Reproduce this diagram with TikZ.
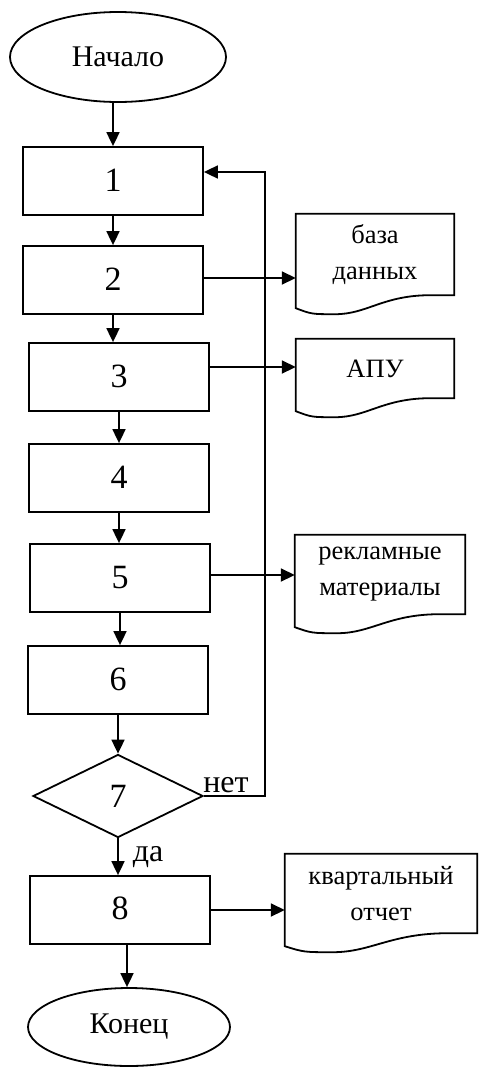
\documentclass[tikz,border=0pt]{standalone}
\usepackage{fontspec}
\setmainfont{Liberation Serif}
\usetikzlibrary{arrows.meta,shapes.geometric,calc}
\newcommand{\docdraw}[1]{%
\draw[line] let \p1=(#1.south west), \p2=(#1.north east), \n1={\x2-\x1} in
 (\x1,\y1-13pt) -- (\x1,\y2) -- (\x2,\y2) -- (\x2,\y1) -- (\x2-0.15*\n1*1pt,\y1)
 .. controls (\x1+0.55*\n1*1pt,\y1) and (\x1+0.45*\n1*1pt,\y1-19pt) .. (\x1+0.25*\n1*1pt,\y1-19pt)
 .. controls (\x1+0.1*\n1*1pt,\y1-19pt) .. (\x1,\y1-13pt) -- cycle;}
\begin{document}
\begin{tikzpicture}[x=1pt,y=-1pt,
 line/.style={line width=1.8pt},
 arr/.style={line width=1.8pt,-{Triangle[length=14pt,width=13pt]}},
 box/.style={draw,line width=1.8pt,minimum width=180pt,minimum height=68pt,inner sep=0pt,font=\fontsize{34}{38}\selectfont},
 term/.style={draw,ellipse,line width=1.8pt,inner sep=0pt,font=\fontsize{30}{34}\selectfont},
 doc/.style={inner sep=0pt,align=center,font=\fontsize{26.5}{36}\selectfont},
 lbl/.style={inner sep=0pt,font=\fontsize{32}{36}\selectfont}]
\useasboundingbox (0,0) rectangle (479,1068);
\node[term,minimum width=216pt,minimum height=90pt] (start) at (118,57) {Начало};
\node[box] (b1) at (113,181) {\raisebox{2pt}{1}};
\node[box] (b2) at (113,280) {\raisebox{2pt}{2}};
\node[box] (b3) at (119,377) {\raisebox{2pt}{3}};
\node[box] (b4) at (119,478) {\raisebox{2pt}{4}};
\node[box] (b5) at (120,578) {\raisebox{2pt}{5}};
\node[box] (b6) at (118,680) {\raisebox{2pt}{6}};
\node[diamond,draw,line width=1.8pt,minimum width=170pt,minimum height=83pt,inner sep=0pt,font=\fontsize{34}{38}\selectfont] (d7) at (118,796) {\raisebox{-4pt}{7}};
\node[box] (b8) at (120,910) {\raisebox{3pt}{8}};
\node[term,minimum width=202pt,minimum height=78pt] (end) at (129,1027) {Конец};

\node[doc,minimum width=158pt,minimum height=81pt] (o1) at (375,254.5) {база\\данных};
\node[doc,minimum width=158pt,minimum height=59pt] (o2) at (375,368.5) {АПУ};
\node[doc,minimum width=170pt,minimum height=79pt] (o3) at (380,574.5) {рекламные\\материалы};
\node[doc,minimum width=192pt,minimum height=79pt] (o4) at (381,893.5) {квартальный\\отчет};
\docdraw{o1}
\docdraw{o2}
\docdraw{o3}
\docdraw{o4}

\draw[arr] (start.south -| b1.north) -- (b1.north);
\draw[arr] (b1.south) -- (b1.south |- b2.north);
\draw[arr] (b2.south) -- (b2.south |- b3.north);
\draw[arr] (b3.south) -- (b3.south |- b4.north);
\draw[arr] (b4.south) -- (b4.south |- b5.north);
\draw[arr] (b5.south) -- (b5.south |- b6.north);
\draw[arr] (b6.south) -- (b6.south |- d7.north);
\draw[arr] (d7.south) -- (d7.south |- b8.north);
\draw[arr] ([xshift=7pt]b8.south) -- ([xshift=7pt]b8.south |- end.north);

\draw[arr] ([yshift=2pt]b2.east) -- ([yshift=2pt]b2.east -| o1.west);
\draw[arr] ([yshift=10pt]b3.east) -- ([yshift=10pt]b3.east -| o2.west);
\draw[arr] ([yshift=3pt]b5.east) -- ([yshift=3pt]b5.east -| o3.west);
\draw[arr] (b8.east) -- (b8.east -| o4.west);

\coordinate (lp) at (265,172);
\draw[arr] (d7.east) -- (d7.east -| lp) -- (lp) -- (lp -| b1.east);

\node[lbl] (no) at (226,785) {нет};
\node[lbl] (yes) at (148,857) {да};
\end{tikzpicture}
\end{document}
